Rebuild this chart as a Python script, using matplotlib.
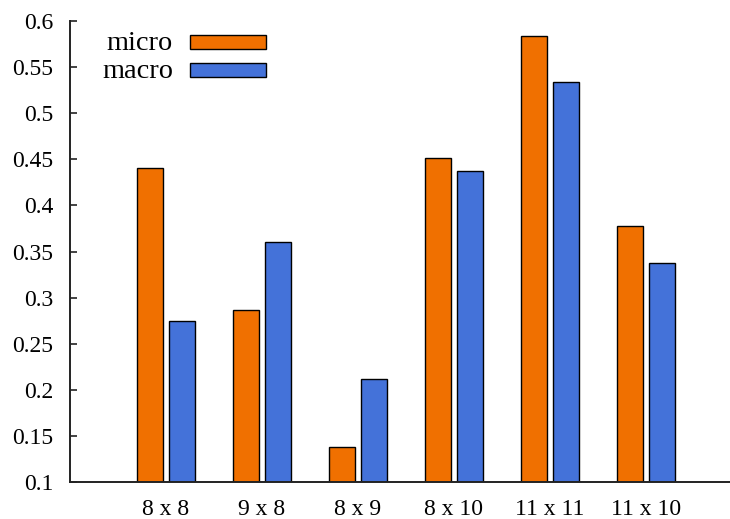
import numpy as np
import matplotlib.pyplot as plt
from matplotlib.patches import Rectangle

# data
categories = ["8 x 8", "9 x 8", "8 x 9", "8 x 10", "11 x 11", "11 x 10"]
micro = [0.441, 0.287, 0.138, 0.451, 0.584, 0.378]
macro = [0.275, 0.360, 0.212, 0.437, 0.534, 0.337]
series_names = ["micro", "macro"]
yticks = [0.1, 0.15, 0.2, 0.25, 0.3, 0.35, 0.4, 0.45, 0.5, 0.55, 0.6]
ytick_labels = ["0.1", "0.15", "0.2", "0.25", "0.3", "0.35", "0.4", "0.45", "0.5", "0.55", "0.6"]

ORANGE = "#f07000"
BLUE = "#4472d9"
W, H = 730, 519

plt.rcParams["font.family"] = ["Liberation Serif", "DejaVu Serif"]
plt.rcParams["font.size"] = 17

fig = plt.figure(figsize=(7.3, 5.19), dpi=100)
ax = fig.add_axes([70/W, 37/H, 660/W, 461/H])

x = np.arange(len(categories))
w = 0.27
off = 0.167
ax.bar(x - off, micro, w, bottom=0, color=ORANGE, edgecolor="black", linewidth=1.0, zorder=2)
ax.bar(x + off, macro, w, bottom=0, color=BLUE, edgecolor="black", linewidth=1.0, zorder=2)

ax.set_xlim(-1.0, 5.875)
ax.set_ylim(0.1, 0.6)
ax.set_yticks(yticks)
ax.set_yticklabels(ytick_labels)
ax.set_xticks(x)
ax.set_xticklabels(categories)

for s in ["top", "right"]:
    ax.spines[s].set_visible(False)
for s in ["left", "bottom"]:
    ax.spines[s].set_linewidth(1.4)
    ax.spines[s].set_color("#222222")

ax.tick_params(axis="y", direction="in", length=5, width=1.2, pad=12, color="#222222")
ax.tick_params(axis="x", length=0, pad=12)

# gnuplot-style key: label on the left, swatch on the right
for i, (name, col) in enumerate(zip(series_names, [ORANGE, BLUE])):
    yc = 42 + 28 * i
    fig.text(173/W, 1 - (yc + 2)/H, name, ha="right", va="center", fontsize=20.4)
    fig.patches.append(Rectangle((190/W, 1 - (yc + 7)/H), 76/W, 14/H, transform=fig.transFigure,
                                 facecolor=col, edgecolor="black", linewidth=1.0))

plt.savefig("out.png", dpi=100)
plt.close()
